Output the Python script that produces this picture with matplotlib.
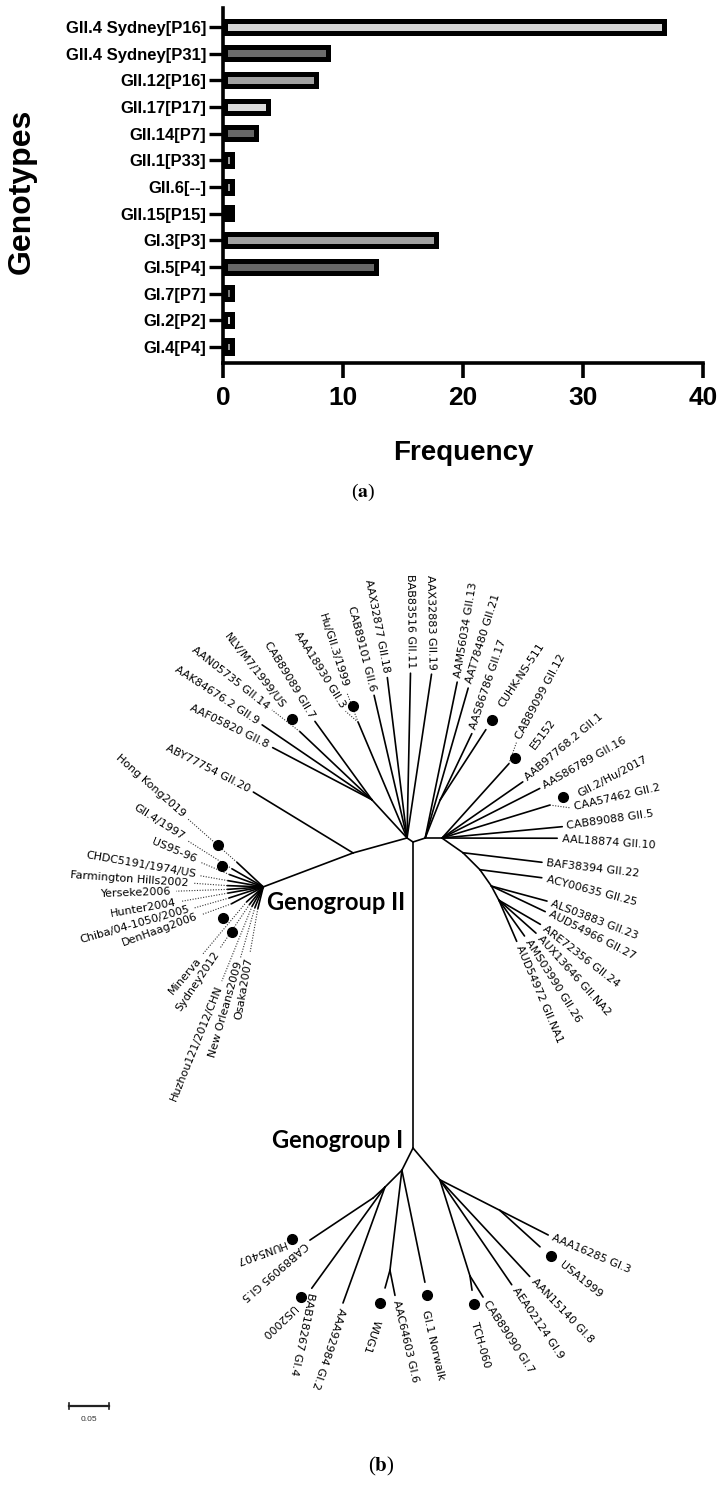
import numpy as np
import matplotlib
matplotlib.use("Agg")
import matplotlib.pyplot as plt

plt.rcParams["font.family"] = "Liberation Sans"
plt.rcParams["mathtext.fontset"] = "stix"

W, H = 727, 1493

# ── (a) genotype frequencies ───────────────────────────────────────────────────
genotypes = ["GII.4 Sydney[P16]", "GII.4 Sydney[P31]", "GII.12[P16]", "GII.17[P17]",
             "GII.14[P7]", "GII.1[P33]", "GII.6[--]", "GII.15[P15]",
             "GI.3[P3]", "GI.5[P4]", "GI.7[P7]", "GI.2[P2]", "GI.4[P4]"]
frequency = [37, 9, 8, 4, 3, 1, 1, 1, 18, 13, 1, 1, 1]
bar_fill = ["#d6d6d6", "#6b6b6b", "#a0a0a0", "#dcdcdc", "#666666", "#a0a0a0", "#a0a0a0",
            "#000000", "#a0a0a0", "#666666", "#777777", "#dcdcdc", "#909090"]
freq_ticks = [0, 10, 20, 30, 40]

# ── (b) tree: internal nodes (parent, angle in degrees, branch length) ────────
node_name = ["GI", "A", "B", "C", "F", "D", "E", "H", "nCU", "n14", "n3", "n12", "n2",
             "P1", "P2", "P3", "P4", "N1", "N2", "N1a", "N1b", "Nwug", "nW", "nN",
             "N2a", "nU", "N2b", "nT"]
node_parent = ["root", "root", "root", "B", "A", "A", "D", "B", "H", "F", "A", "C", "C",
               "C", "P1", "P2", "P3", "GI", "GI", "N1", "N1a", "N1", "Nwug", "N1",
               "N2", "N2a", "N2", "N2b"]
node_angle = [-90, 146, 18, 0, 132.6, 195.5, 200.7, 68.5, 57, 136.6, 112.9, 48, 17,
              -35, -45, -55, -62, -116.6, -49.8, -135, -137.5, -96.8, -105.5, -78.4,
              -27, -42.2, -72.6, -81.9]
node_len = [0.3825, 0.009, 0.016, 0.021, 0.065, 0.070, 0.120, 0.051, 0.105, 0.124, 0.157,
            0.125, 0.141, 0.032, 0.030, 0.025, 0.020, 0.031, 0.052, 0.030, 0.020, 0.126,
            0.023, 0.143, 0.084, 0.068, 0.126, 0.018]

# ── leaves ─────────────────────────────────────────────────────────────────────
leaf_label = [
    "AAK84676.2 GII.9", "AAF05820 GII.8", "AAN05735 GII.14", "NLV/M7/1999/US",
    "CAB89089 GII.7", "AAA18930 GII.3", "Hu/GII.3/1999", "CAB89101 GII.6",
    "AAX32877 GII.18", "BAB83516 GII.11", "AAX32883 GII.19", "ABY77754 GII.20",
    "AAM56034 GII.13", "AAT78480 GII.21", "AAS86786 GII.17", "CUHK-NS-511",
    "CAB89099 GII.12", "E5152", "AAB97768.2 GII.1", "AAS86789 GII.16",
    "GII.2/Hu/2017", "CAA57462 GII.2", "CAB89088 GII.5", "AAL18874 GII.10",
    "BAF38394 GII.22", "ACY00635 GII.25", "ALS03883 GII.23", "AUD54966 GII.27",
    "ARE72356 GII.24", "AUX13646 GII.NA2", "AMS03990 GII.26", "AUD54972 GII.NA1",
    "Hong Kong2019", "GII.4/1997", "US95-96", "CHDC5191/1974/US",
    "Farmington Hills2002", "Yerseke2006", "Hunter2004", "Chiba/04-1050/2005",
    "DenHaag2006", "Minerva", "Sydney2012", "Huzhou121/2012/CHN",
    "New Orleans2009", "Osaka2007",
    "CAB89095 GI.5", "HUN5407", "BAB18267 GI.4", "US2000", "AAA92984 GI.2",
    "WUG1", "AAC64603 GI.6", "GI.1 Norwalk", "AAA16285 GI.3", "USA1999",
    "AAN15140 GI.8", "AEA02124 GI.9", "CAB89090 GI.7", "TCH-060",
]
leaf_parent = [
    "F", "F", "n14", "n14", "F", "n3", "n3", "A", "A", "A", "A", "D",
    "B", "B", "H", "nCU", "n12", "n12", "C", "C", "n2", "n2", "C", "C",
    "P1", "P2", "P3", "P3", "P4", "P4", "P4", "P4",
    "E", "E", "E", "E", "E", "E", "E", "E", "E", "E", "E", "E", "E", "E",
    "N1b", "N1b", "N1a", "N1a", "N1a", "nW", "Nwug", "nN", "N2a", "nU",
    "N2", "N2", "N2b", "nT",
]
leaf_angle = [
    145.7, 152.3, 142.2, 123.7, 126, 138.9, 110.8, 103, 97, 88.8, 81.5, 148.6,
    78.4, 74, 64.5, 56.6, 70.4, 28.7, 34.8, 26.9, 19.5, -7.7, 5.4, -0.1,
    -6.9, -7.4, -15.1, -25.4, -30.2, -41.6, -54.4, -66.6,
    137, 150, 160, 170, 178, 184, 190, 198, 208, 222, 232, 240, 248, 256,
    -146.3, -152.9, -125.9, -127.1, -109.9, -104.5, -78.7, -91.7, -27, -38.5,
    -47.1, -55.6, -58.2, -89.6,
]
leaf_len = [
    0.166, 0.140, 0.044, 0.031, 0.121, 0.021, 0.040, 0.183, 0.202, 0.206, 0.207, 0.146,
    0.199, 0.195, 0.092, 0.029, 0.028, 0.030, 0.123, 0.137, 0.032, 0.025, 0.151, 0.144,
    0.0995, 0.078, 0.072, 0.0745, 0.060, 0.062, 0.055, 0.056,
    0.045, 0.045, 0.045, 0.045, 0.045, 0.045, 0.045, 0.045, 0.045,
    0.028, 0.028, 0.028, 0.028, 0.028,
    0.095, 0.118, 0.156, 0.182, 0.154, 0.035, 0.032, 0.029, 0.068, 0.028,
    0.165, 0.159, 0.031, 0.034,
]
leaf_style = [
    "-", "-", ":", "", "-", ":", ":", "-", "-", "-", "-", "-",
    "-", "-", "-", "", ":", "", "-", "-", "", ":", "-", "-",
    "-", "-", "-", "-", "-", "-", "-", "-",
    "-", "-", "-", "-", "-", "-", "-", "-", "-", "-", "-", "-", "-", "-",
    "-", "", "-", "", "-", "", "-", "", "-", "",
    "-", "-", "-", "",
]
leaf_text_angle = [
    147, 154, 142, 128, 121.4, 122, 107.5, 104.3, 101, 90.5, 91, 153,
    80.5, 72.6, 71.4, 56.5, 62, 53, 40, 29.7, 27.7, 13, 8.2, -4,
    -6.6, -14.6, -21, -27, -37.7, -48, -57.7, -67,
    138.5, 147.7, 157, 170, 176, 182, 190, 196, 200, 230, 236, 248, 254, 260,
    -139, -160, -102, -136.6, -108.6, -108, -76.8, -77, -23, -39,
    -46.4, -56, -57, -74,
]
leaf_leader = [0] * 32 + [0.083, 0.066, 0.040, 0.035, 0.043, 0.064, 0.060, 0.045, 0.039,
                          0.086, 0.066, 0.101, 0.065, 0.056] + [0] * 14

# ── study strains (dots) ───────────────────────────────────────────────────────
dot_parent = ["n14", "n3", "nCU", "n12", "n2", "E", "E", "E", "E",
              "N1b", "N1a", "nW", "nN", "nT", "nU"]
dot_angle = [121.6, 107.4, 56.7, 45, 31.6, 137, 152.9, 217.8, 235.4,
             -153.2, -127.4, -108.4, -81.3, -81.9, -39.3]
dot_len = [0.019, 0.021, 0.014, 0.011, 0.019, 0.077, 0.058, 0.063, 0.068,
           0.113, 0.173, 0.020, 0.016, 0.018, 0.018]

scale_bar = 0.05

# ══════════════════════════════════════════════════════════════════════════════
fig = plt.figure(figsize=(W / 100, H / 100), dpi=100)
fig.patch.set_facecolor("white")

# ── Panel (a) ──────────────────────────────────────────────────────────────────
ax = fig.add_axes([223 / W, 1 - 363 / H, 480 / W, 355 / H])
ypos = np.arange(len(genotypes))
freq = np.array(frequency, dtype=float)
inset_x, inset_y, bar_h = 0.42, 0.19, 0.64
ax.barh(ypos, freq, height=bar_h, color="black", zorder=2)
ax.barh(ypos, freq - 2 * inset_x, left=inset_x, height=bar_h - 2 * inset_y,
        color=bar_fill, zorder=3)
ax.set_xlim(0, 40)
ax.set_ylim(12.6, -0.72)
ax.set_yticks(ypos)
ax.set_yticklabels(genotypes, fontsize=12, fontweight="bold")
ax.set_xticks(freq_ticks)
ax.set_xticklabels([str(t) for t in freq_ticks], fontsize=19, fontweight="bold")
ax.spines[["top", "right"]].set_visible(False)
for s in ["left", "bottom"]:
    ax.spines[s].set_linewidth(2.6)
    ax.spines[s].set_capstyle("projecting")
ax.tick_params(axis="y", length=10, width=2.4, pad=2)
ax.tick_params(axis="x", length=10.5, width=2.6, pad=6)

fig.text(463 / W, 1 - 453 / H, "Frequency", fontsize=20, fontweight="bold",
         ha="center", va="center")
fig.text(22 / W, 1 - 191 / H, "Genotypes", fontsize=23, fontweight="bold",
         ha="center", va="center", rotation=90)
fig.text(363 / W, 1 - 492 / H, r"($\mathbf{a}$)", fontsize=14,
         family="Liberation Serif", ha="center", va="center")

# ── Panel (b) ──────────────────────────────────────────────────────────────────
tx = fig.add_axes([0, 0, 1, 1])
tx.set_xlim(-413 / 800, (W - 413) / 800)
tx.set_ylim(-(H - 842) / 800, 842 / 800)
tx.axis("off")

pos = {"root": (0.0, 0.0)}
parent_of = {}
for name, par, ang, ln in zip(node_name, node_parent, node_angle, node_len):
    px, py = pos[par]
    a = np.radians(ang)
    pos[name] = (px + ln * np.cos(a), py + ln * np.sin(a))
    parent_of[name] = par
    tx.plot([px, pos[name][0]], [py, pos[name][1]], color="black", lw=1.2,
            solid_capstyle="round")


def in_gi(name):
    while name in parent_of:
        if name == "GI":
            return True
        name = parent_of[name]
    return False


gap = 0.006
for lab, par, ang, ln, sty, ta, lead in zip(leaf_label, leaf_parent, leaf_angle, leaf_len,
                                            leaf_style, leaf_text_angle, leaf_leader):
    px, py = pos[par]
    a = np.radians(ang)
    ex, ey = px + ln * np.cos(a), py + ln * np.sin(a)
    if sty == "-":
        tx.plot([px, ex], [py, ey], color="black", lw=1.2, solid_capstyle="round")
    elif sty == ":":
        tx.plot([px, ex], [py, ey], color="#333333", lw=0.8, ls=(0, (1, 1.4)))
    t = np.radians(ta)
    if lead > 0:
        tx.plot([ex, ex + lead * np.cos(t)], [ey, ey + lead * np.sin(t)],
                color="#333333", lw=0.8, ls=(0, (1, 1.4)))
    lx = ex + (lead + gap) * np.cos(t)
    ly = ey + (lead + gap) * np.sin(t)
    tam = ta % 360
    flip = (not in_gi(par)) and (85 < tam < 275)
    tx.text(lx, ly, lab, rotation=(ta - 180) if flip else ta, rotation_mode="anchor",
            ha="right" if flip else "left", va="center", fontsize=8,
            family="DejaVu Sans")

for par, ang, ln in zip(dot_parent, dot_angle, dot_len):
    px, py = pos[par]
    a = np.radians(ang)
    tx.plot(px + ln * np.cos(a), py + ln * np.sin(a), "o", color="black", ms=7, zorder=5)

fig.text(336 / W, 1 - 903 / H, "Genogroup II", fontsize=17, fontweight="bold",
         family="Lato", ha="center", va="center")
fig.text(403 / W, 1 - 1141 / H, "Genogroup I", fontsize=17, fontweight="bold",
         family="Lato", ha="right", va="center")

# scale bar
sb_x0, sb_y = (69 - 413) / 800, (842 - 1406) / 800
tx.plot([sb_x0, sb_x0 + scale_bar], [sb_y, sb_y], color="#222222", lw=1.6)
for xx in [sb_x0, sb_x0 + scale_bar]:
    tx.plot([xx, xx], [sb_y - 0.004, sb_y + 0.004], color="#222222", lw=1.2)
tx.text(sb_x0 + scale_bar / 2, sb_y - 0.017, f"{scale_bar:.2f}", fontsize=6,
        ha="center", va="center", color="#333333")

fig.text(381 / W, 1 - 1466 / H, r"($\mathbf{b}$)", fontsize=15,
         family="Liberation Serif", ha="center", va="center")

fig.savefig("out.png", dpi=100, facecolor="white")
